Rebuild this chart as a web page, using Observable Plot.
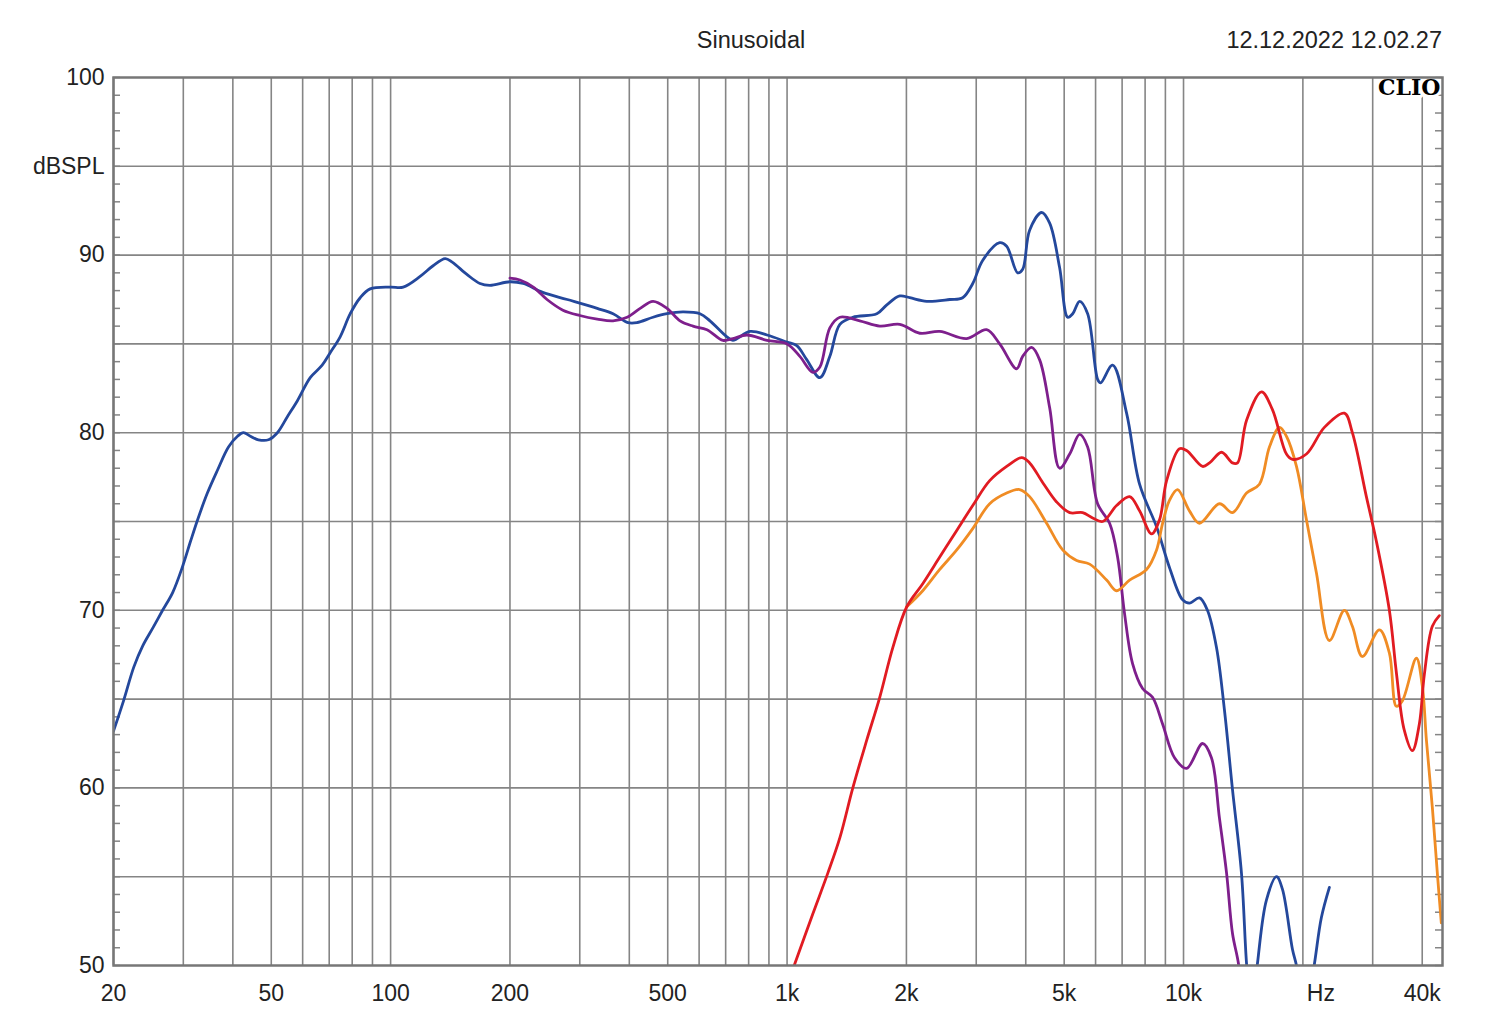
<!DOCTYPE html>
<html>
<head>
<meta charset="utf-8">
<script src="https://cdn.jsdelivr.net/npm/d3@7"></script>
<script src="https://cdn.jsdelivr.net/npm/@observablehq/plot@0.6"></script>
<style>
  body { margin: 0; background: #fff; }
  #wrap { position: relative; width: 1500px; height: 1028px; font-family: "Liberation Sans", Arial, sans-serif; }
  #wrap svg { position: absolute; left: 0; top: 0; }
  .t { position: absolute; font-size: 23.5px; color: #222; line-height: 24px; z-index: 2; }
</style>
</head>
<body>
<div id="wrap">
  <div class="t" style="left:0; width:1502px; text-align:center; top:28px;">Sinusoidal</div>
  <div class="t" style="right:58px; top:28px; text-align:right;">12.12.2022 12.02.27</div>
</div>
<script>
// ---- axis / grid values ----
const gridHz = [20,30,40,50,60,70,80,90,100,200,300,400,500,600,700,800,900,1000,2000,3000,4000,5000,6000,7000,8000,9000,10000,20000,30000,40000];
const gridDb = [55,60,65,70,75,80,85,90,95];
const xTickHz = [20,50,100,200,500,1000,2000,5000,10000,40000];
const xTickText = ["20","50","100","200","500","1k","2k","5k","10k","40k"];
const hzUnitTick = [20000];
const yTickDb = [50,60,70,80,90,95,100];
const yTickText = ["50","60","70","80","90","dBSPL","100"];
const minorDb = d3.range(50, 101);

// ---- series (frequency in Hz, level in dB SPL) ----
const blueHz = [20,21.2,22.5,23.7,25.2,26.6,28.2,29.8,31.3,32.6,34.5,36.6,39,41.1,42.5,44.3,46.4,49.2,51.8,54.9,58.2,62.7,67.2,70.4,74.6,79.1,83.8,88.8,100,107.6,118.7,128,137.3,143,156,168,178,200,216,242,279,332,364,397,418,459,498,546,603,639,705,730,806,890,1000,1058,1122,1210,1282,1359,1465,1684,1785,1924,2039,2251,2572,2773,2940,3114,3438,3580,3816,3929,4091,4387,4596,4869,5103,5253,5470,5730,6072,6178,6624,7184,7747,8551,9220,9940,10350,10970,11490,12110,12680,13290,14000,14420,14840,15360,16190,17160,17760,18830,19270,20300,21390,22270,23330];
const blueDb = [63.2,64.9,66.8,68.0,69.05,70.0,71.0,72.4,73.9,75.1,76.6,77.9,79.2,79.8,80.0,79.8,79.6,79.6,80.0,80.9,81.8,83.1,83.8,84.5,85.4,86.7,87.6,88.1,88.2,88.2,88.8,89.4,89.8,89.6,88.9,88.4,88.3,88.5,88.4,87.9,87.5,87.0,86.7,86.2,86.2,86.5,86.7,86.8,86.7,86.3,85.4,85.2,85.7,85.5,85.1,84.9,84.1,83.1,84.3,86.1,86.5,86.7,87.2,87.7,87.6,87.4,87.5,87.6,88.4,89.7,90.7,90.5,89.0,89.2,91.4,92.4,91.8,89.3,86.5,86.7,87.4,86.7,83.0,82.8,83.8,81.1,77.1,74.7,72.4,70.6,70.4,70.7,70.0,67.9,64.4,59.9,55.2,50.1,47,50.1,53.7,55.0,54.3,50.9,50.0,47,50.1,52.7,54.4];

const purpleHz = [200,212,229,248,272,300,332,364,395,426,459,498,537,579,628,689,730,792,890,1000,1077,1161,1210,1282,1359,1525,1713,1924,2161,2427,2839,3187,3438,3794,3929,4139,4336,4596,4869,5162,5470,5730,6072,6509,6818,7101,7438,7884,8353,8854,9491,10180,11170,11760,12320,12840,13290,13760,14240];
const purpleDb = [88.7,88.6,88.2,87.5,86.9,86.6,86.4,86.3,86.5,87.0,87.4,87.0,86.3,86.0,85.8,85.2,85.3,85.5,85.2,85.0,84.3,83.4,83.7,85.9,86.5,86.3,86.0,86.1,85.6,85.7,85.3,85.8,85.0,83.6,84.3,84.8,84.1,81.4,78.0,78.8,79.9,79.2,76.0,74.9,73.0,69.8,67.0,65.6,65.1,63.6,61.7,61.1,62.5,61.7,58.3,55.2,51.8,50.1,47];

const redHz = [980,1046,1161,1267,1359,1465,1589,1713,1848,2004,2199,2427,2679,2940,3244,3580,3906,4091,4412,4785,5162,5566,5898,6251,6779,7310,7747,8305,8700,9063,9770,10180,11170,11630,12470,13290,13680,14420,15730,16760,18180,18830,20420,22660,25450,26660,28920,30640,33050,34420,36000,37780,39340,40500,42420,44180];
const redDb = [48.4,50.1,52.9,55.2,57.2,60.0,62.7,65.1,67.9,70.2,71.5,73.0,74.5,75.9,77.3,78.1,78.6,78.3,77.2,76.1,75.5,75.5,75.2,75.0,75.9,76.4,75.6,74.3,75.1,77.3,79.1,79.0,78.1,78.3,78.9,78.3,78.3,80.7,82.3,81.3,78.8,78.5,78.8,80.3,81.1,80.0,76.4,73.9,70.0,66.5,63.3,62.1,63.6,66.4,69.1,69.7];

const orangeHz = [2004,2199,2427,2679,2940,3244,3580,3861,4091,4515,4956,5375,5797,6397,6779,7310,8067,8551,8854,9220,9658,10350,10970,12320,13290,14420,15540,16470,17460,18180,19270,20420,21640,23330,25450,26660,28260,31190,33050,34420,35640,38670,40040,40980,42420,43670,44690];
const orangeDb = [70.2,71.1,72.3,73.4,74.6,76.0,76.6,76.8,76.4,74.9,73.4,72.8,72.6,71.7,71.1,71.7,72.3,73.4,74.9,76.2,76.8,75.6,74.9,76.0,75.5,76.6,77.1,79.2,80.3,79.8,78.1,75.1,72.1,68.3,70.0,69.1,67.4,68.9,67.6,64.6,64.9,67.3,65.7,62.7,58.9,55.2,52.4];

const colors = { blue: "#24489c", purple: "#7e1f8c", red: "#e11b22", orange: "#f08c24" };

const toRows = (hz, db) => hz.map((f, i) => ({ hz: f, db: db[i] }));

const W = 1500, H = 1028, ML = 113, MR = 58, MT = 77, MB = 63;
const plotW = W - ML - MR;
const gridColor = "#858585";

const lineOpts = (c) => ({ x: "hz", y: "db", stroke: c, strokeWidth: 2.8, curve: "catmull-rom", clip: true });

const chart = Plot.plot({
  width: W, height: H,
  marginLeft: ML, marginRight: MR, marginTop: MT, marginBottom: MB,
  x: { type: "log", domain: [20, 45000] },
  y: { domain: [50, 100] },
  style: { fontFamily: '"Liberation Sans", Arial, sans-serif', fontSize: "23px", color: "#222", background: "transparent", overflow: "visible" },
  marks: [
    Plot.ruleX(gridHz, { stroke: gridColor, strokeWidth: 1.6 }),
    Plot.ruleY(gridDb, { stroke: gridColor, strokeWidth: 1.6 }),
    Plot.tickY(minorDb, { y: d => d, insetRight: plotW - 7, stroke: gridColor, strokeWidth: 1.5 }),
    Plot.tickY(minorDb, { y: d => d, insetLeft: plotW - 7, stroke: gridColor, strokeWidth: 1.5 }),
    Plot.text(["CLIO"], { text: d => d, frameAnchor: "top-right", textAnchor: "end", lineAnchor: "top", dx: -2, dy: 2,
      fontFamily: '"DejaVu Serif", "Liberation Serif", serif', fontWeight: "bold", fontSize: 22,
      fill: "#000", stroke: "#fff", strokeWidth: 6 }),
    Plot.line(toRows(blueHz, blueDb), lineOpts(colors.blue)),
    Plot.line(toRows(purpleHz, purpleDb), lineOpts(colors.purple)),
    Plot.line(toRows(orangeHz, orangeDb), lineOpts(colors.orange)),
    Plot.line(toRows(redHz, redDb), lineOpts(colors.red)),
    Plot.frame({ stroke: "#777", strokeWidth: 2.5 }),
    Plot.axisX(xTickHz, { tickFormat: d => xTickText[xTickHz.indexOf(d)], tickSize: 0, tickPadding: 19, label: null }),
    Plot.axisX(hzUnitTick, { tickFormat: () => "Hz", tickSize: 0, tickPadding: 19, dx: 18, label: null }),
    Plot.axisY(yTickDb, { tickFormat: d => yTickText[yTickDb.indexOf(d)], tickSize: 0, tickPadding: 9, label: null })
  ]
});
document.getElementById("wrap").appendChild(chart);
</script>
</body>
</html>
